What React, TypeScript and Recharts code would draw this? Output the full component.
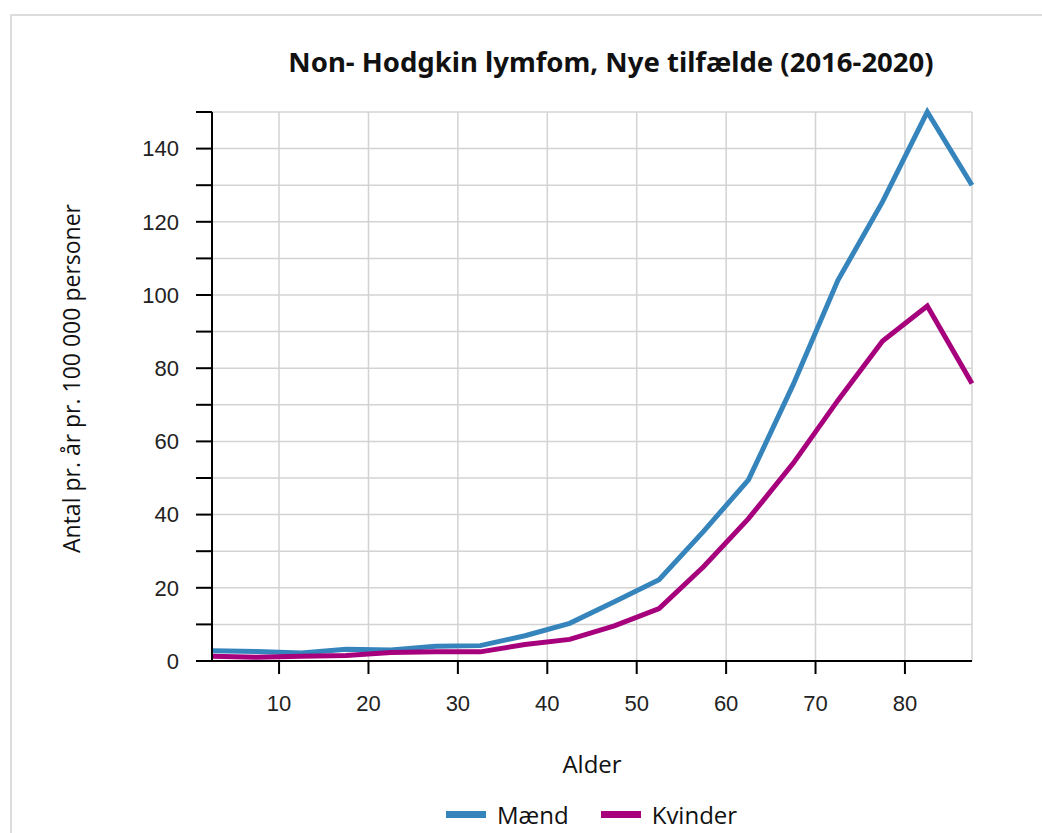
import { LineChart, Line, XAxis, YAxis, CartesianGrid, Legend } from 'recharts';

// aldersgrupper (midtpunkter)
const alder = [2.5, 7.5, 12.5, 17.5, 22.5, 27.5, 32.5, 37.5, 42.5, 47.5, 52.5, 57.5, 62.5, 67.5, 72.5, 77.5, 82.5, 87.5];
const maend = [2.8, 2.6, 2.2, 3.2, 3.0, 4.0, 4.2, 6.9, 10.3, 16.2, 22.2, 35.5, 49.5, 75.5, 104, 125.5, 150, 130];
const kvinder = [1.3, 1.0, 1.3, 1.5, 2.3, 2.5, 2.5, 4.5, 5.9, 9.6, 14.3, 25.8, 38.9, 54, 71.2, 87.4, 97, 75.8];

const xTicks = [10, 20, 30, 40, 50, 60, 70, 80];
const yTicks = [0, 10, 20, 30, 40, 50, 60, 70, 80, 90, 100, 110, 120, 130, 140, 150];

const serier = [
  { key: 'maend', navn: 'Mænd', farve: '#3584bc' },
  { key: 'kvinder', navn: 'Kvinder', farve: '#a6007c' },
];

const data = alder.map((a, i) => ({ alder: a, maend: maend[i], kvinder: kvinder[i] }));

const tekstFont = '"Open Sans", sans-serif';
const tickFont = { fontFamily: '"Liberation Sans", Arial', fontSize: 22, fill: '#222' };

const LegendIndhold = () => (
  <div style={{ display: 'flex', alignItems: 'center', height: 30, fontFamily: tekstFont, fontSize: 24, color: '#111' }}>
    {serier.map((s) => (
      <div key={s.key} style={{ display: 'flex', alignItems: 'center', marginRight: 32 }}>
        <span style={{ display: 'inline-block', width: 40, height: 7, background: s.farve, marginRight: 11 }} />
        <span>{s.navn}</span>
      </div>
    ))}
  </div>
);

export default function App() {
  return (
    <div style={{ position: 'absolute', left: 0, top: 0, width: 1042, height: 833, overflow: 'hidden', background: '#fff' }}>
      <div style={{ position: 'absolute', left: 10, top: 14, width: 1100, height: 900, border: '2px solid #dcdcdc' }} />
      <div
        style={{
          position: 'absolute', left: 211, top: 43, width: 800, textAlign: 'center',
          fontFamily: '"Noto Sans", sans-serif', fontWeight: 700, fontSize: 27.5, color: '#111',
        }}
      >
        Non- Hodgkin lymfom, Nye tilfælde (2016-2020)
      </div>
      <div style={{ position: 'absolute', left: 0, top: 0 }}>
        <LineChart width={1042} height={833} data={data} margin={{ top: 112, right: 70, left: 0, bottom: 92 }}>
          <CartesianGrid stroke="#d3d3d3" strokeWidth={1.5} />
          <XAxis
            dataKey="alder"
            type="number"
            domain={[2.5, 87.5]}
            ticks={xTicks}
            height={50}
            tickSize={13}
            tickMargin={21}
            axisLine={{ stroke: '#000', strokeWidth: 2 }}
            tickLine={{ stroke: '#000', strokeWidth: 2 }}
            tick={tickFont}
            label={{
              content: (p: any) => (
                <text
                  x={p.viewBox.x + p.viewBox.width / 2}
                  y={p.viewBox.y + 102}
                  textAnchor="middle"
                  dominantBaseline="central"
                  style={{ fontFamily: tekstFont, fontSize: 24, fill: '#111' }}
                >
                  Alder
                </text>
              ),
            }}
          />
          <YAxis
            type="number"
            domain={[0, 150]}
            ticks={yTicks}
            width={212}
            tickSize={16}
            tickMargin={17}
            tickFormatter={(v: number) => (v % 20 === 0 ? String(v) : '')}
            axisLine={{ stroke: '#000', strokeWidth: 2 }}
            tickLine={{ stroke: '#000', strokeWidth: 2 }}
            tick={tickFont}
            label={{
              content: (p: any) => {
                const cx = p.viewBox.x + 71;
                const cy = p.viewBox.y + p.viewBox.height / 2 - 8;
                return (
                  <text
                    x={cx}
                    y={cy}
                    transform={`rotate(-90 ${cx} ${cy})`}
                    textAnchor="middle"
                    dominantBaseline="central"
                    style={{ fontFamily: tekstFont, fontSize: 23, fill: '#111' }}
                  >
                    Antal pr. år pr. 100 000 personer
                  </text>
                );
              },
            }}
          />
          <Legend content={<LegendIndhold />} wrapperStyle={{ left: 446, bottom: 4, width: 400 }} />
          {serier.map((s) => (
            <Line
              key={s.key}
              type="linear"
              dataKey={s.key}
              name={s.navn}
              stroke={s.farve}
              strokeWidth={5}
              dot={false}
              isAnimationActive={false}
            />
          ))}
        </LineChart>
      </div>
    </div>
  );
}
